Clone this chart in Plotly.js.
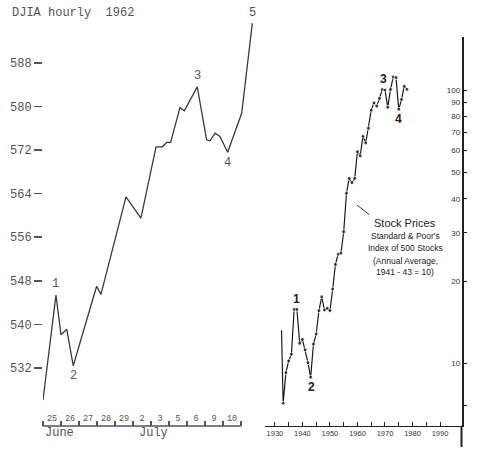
<!DOCTYPE html>
<html>
<head>
<meta charset="utf-8">
<script src="https://cdn.plot.ly/plotly-3.0.1.min.js"></script>
<style>html,body{margin:0;padding:0;background:#fff;}#chart{width:488px;height:455px;}</style>
</head>
<body>
<div id="chart"></div>
<script>
// ---- Left panel: DJIA hourly, June 25 - July 10, 1962 (x in trading-day units) ----
const djiaDay   = [0, 0.72, 1.0, 1.32, 1.68, 2.98, 3.22, 4.61, 5.44, 6.28, 6.63, 6.87, 7.09, 7.61, 7.85, 8.57, 9.09, 9.28, 9.56, 9.83, 10.26, 11.04, 11.63];
const djiaValue = [526.1, 545.4, 538.1, 539.1, 532.4, 547.0, 545.5, 563.4, 559.5, 572.6, 572.6, 573.4, 573.4, 579.8, 579.2, 583.6, 573.9, 573.7, 575.1, 574.5, 571.6, 578.8, 595.3];
const dayLabels = ["25", "26", "27", "28", "29", "2", "3", "5", "6", "9", "10"];
const monthLabels = ["June", "July"];
const monthStartDay = [0, 5];
const djiaTicks = [532, 540, 548, 556, 564, 572, 580, 588];
const djiaWaveIdx  = [1, 4, 15, 20, 22];
const djiaWaveText = ["1", "2", "3", "4", "5"];
const djiaWaveDir  = [1, -1, 1, -1, 1];

// ---- Right panel: S&P 500 annual average (1941-43 = 10), log scale ----
const spYear  = [1932.4, 1933, 1934, 1935, 1936, 1937, 1938, 1939, 1940, 1941, 1942, 1943, 1944, 1945, 1946, 1947, 1948, 1949, 1950, 1951, 1952, 1953, 1954, 1955, 1956, 1957, 1958, 1959, 1960, 1961, 1962, 1963, 1964, 1965, 1966, 1967, 1968, 1969, 1970, 1971, 1972, 1973, 1974, 1975, 1976, 1977, 1978];
const spValue = [13.2, 7.14, 9.24, 10.2, 10.8, 15.76, 15.76, 11.83, 12.24, 11.2, 10.05, 8.89, 11.76, 12.8, 15.58, 17.52, 15.67, 15.9, 15.58, 18.7, 23.0, 25.1, 25.3, 30.3, 41.9, 47.5, 45.8, 47.5, 59.5, 57.4, 67.8, 64.0, 72.5, 84.4, 89.8, 87.3, 93.2, 100.5, 100, 86.4, 100.5, 111.7, 111.1, 85, 92.3, 103.3, 100.5];
const spMarker = spYear.map((y, i) => i === 0 ? 0 : 4);
const spTickVals = [7, 10, 20, 30, 40, 50, 60, 70, 80, 90, 100];
const spTickText = ["", "10", "20", "30", "40", "50", "60", "70", "80", "90", "100"];
const decadeTicks = [1930, 1940, 1950, 1960, 1970, 1980, 1990];
const spWaveIdx  = [5, 11, 37, 43];
const spWaveText = ["1", "2", "3", "4"];
const spWaveDir  = [1, -1, 1, -1];
const spWaveXShift = [2, 1, 1, 0];
const legendLines = ["Standard & Poor's", "Index of 500 Stocks", "(Annual Average,", "1941 - 43 = 10)"];

const W = 488, H = 455;
const px = v => v / W;
const py = v => (H - v) / H;

const mono = "Liberation Mono, DejaVu Sans Mono, monospace";
const sans = "Liberation Sans, Arial, sans-serif";
const grayTxt = "#555";

const traces = [
  {x: djiaDay, y: djiaValue, xaxis: "x", yaxis: "y", type: "scatter", mode: "lines",
   line: {color: "#3a3a3a", width: 1.3}, hoverinfo: "skip"},
  {x: spYear, y: spValue, xaxis: "x2", yaxis: "y2", type: "scatter", mode: "lines+markers",
   line: {color: "#1a1a1a", width: 1.2}, marker: {color: "#1a1a1a", size: spMarker}, hoverinfo: "skip"}
];

const annotations = [];
annotations.push({text: "DJIA hourly  1962", xref: "paper", yref: "paper", x: px(10), y: py(12.5),
  xanchor: "left", yanchor: "middle", showarrow: false, font: {family: mono, size: 12, color: grayTxt}});
monthLabels.forEach((m, i) => annotations.push({text: m, xref: "x", yref: "paper", x: monthStartDay[i], y: py(433),
  xanchor: "left", yanchor: "middle", xshift: i === 0 ? 0 : 4, showarrow: false, font: {family: mono, size: 12, color: grayTxt}}));
djiaWaveIdx.forEach((idx, i) => annotations.push({text: djiaWaveText[i], xref: "x", yref: "y",
  x: djiaDay[idx], y: djiaValue[idx], yshift: djiaWaveDir[i] * 10.5, xanchor: "center", showarrow: false,
  font: {family: mono, size: 12, color: grayTxt}}));
spWaveIdx.forEach((idx, i) => annotations.push({text: "<b>" + spWaveText[i] + "</b>", xref: "x2", yref: "y2",
  x: spYear[idx], y: Math.log10(spValue[idx]), yshift: spWaveDir[i] * 10, xshift: spWaveXShift[i],
  xanchor: "center", showarrow: false, font: {family: sans, size: 12, color: "#222"}}));
annotations.push({text: "Stock Prices", xref: "paper", yref: "paper", x: px(405), y: py(222.7),
  xanchor: "center", yanchor: "middle", showarrow: false, font: {family: sans, size: 11, color: "#222"}});
const legendY = [235.7, 248.3, 261, 271.7];
legendLines.forEach((t, i) => annotations.push({text: t, xref: "paper", yref: "paper", x: px(405), y: py(legendY[i]),
  xanchor: "center", yanchor: "middle", showarrow: false, font: {family: sans, size: 8.5, color: "#222"}}));
annotations.push({text: "", xref: "paper", yref: "paper", x: px(357), y: py(205), ax: 14, ay: 11,
  showarrow: true, arrowhead: 0, arrowwidth: 1, arrowcolor: "#333"});

const layout = {
  width: W, height: H,
  margin: {l: 0, r: 0, t: 0, b: 0, pad: 0},
  paper_bgcolor: "#fff", plot_bgcolor: "rgba(0,0,0,0)",
  showlegend: false,
  xaxis: {domain: [px(43), px(253.6)], range: [0, 11.7], anchor: "free", position: py(426),
    showline: false, showgrid: false, zeroline: false,
    tickvals: dayLabels.map((d, i) => i + 0.5), ticktext: dayLabels, ticks: "",
    ticklabelposition: "inside", tickfont: {family: mono, size: 8.5, color: grayTxt},
    minor: {tick0: 0, dtick: 1, ticks: "inside", ticklen: 5, tickwidth: 1.2, tickcolor: grayTxt, showgrid: false}},
  yaxis: {domain: [py(411.5), py(8.5)], range: [524, 598], showline: false, showgrid: false, zeroline: false,
    tickvals: djiaTicks, ticks: "outside", ticklen: 8, tickwidth: 1.6, tickcolor: grayTxt,
    tickfont: {family: mono, size: 12, color: grayTxt}},
  xaxis2: {domain: [px(265), px(461.5)], range: [1926.4, 1997.8], anchor: "y2",
    showline: true, linecolor: "#222", linewidth: 1.5, showgrid: false, zeroline: false,
    tickvals: decadeTicks, ticks: "inside", ticklen: 4, tickwidth: 1, tickcolor: "#222",
    tickfont: {family: sans, size: 7.5, color: "#333"},
    minor: {tick0: 1930, dtick: 5, ticks: "inside", ticklen: 4, tickwidth: 1, tickcolor: "#222", showgrid: false}},
  yaxis2: {domain: [py(425.7), py(37)], type: "log", range: [0.7717, 2.194], anchor: "x2", side: "right",
    showline: true, linecolor: "#222", linewidth: 2, showgrid: false, zeroline: false,
    tickvals: spTickVals, ticktext: spTickText, ticks: "outside", ticklen: 3, tickwidth: 1, tickcolor: "#222",
    ticklabelposition: "inside", tickfont: {family: sans, size: 8, color: "#333"}},
  shapes: [
    {type: "line", xref: "x", yref: "paper", x0: 0, x1: dayLabels.length, y0: py(426), y1: py(426),
     line: {color: grayTxt, width: 1.3}},
    {type: "line", xref: "paper", yref: "paper", x0: px(461.5), x1: px(461.5), y0: py(425.7), y1: py(447),
     line: {color: "#222", width: 2}}
  ],
  annotations: annotations
};

Plotly.newPlot("chart", traces, layout, {staticPlot: true, displayModeBar: false});
</script>
</body>
</html>
